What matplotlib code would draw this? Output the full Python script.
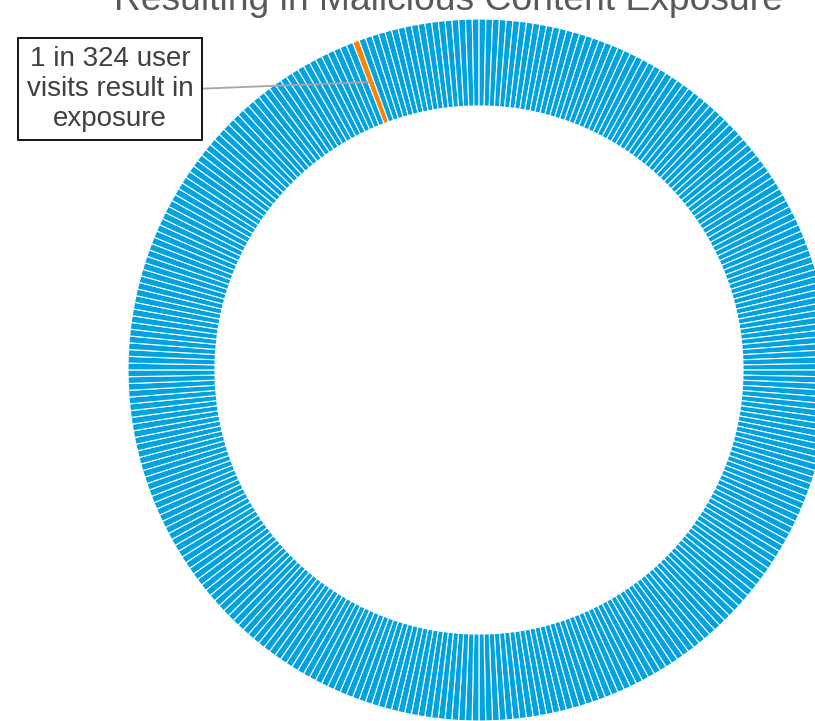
import numpy as np
import matplotlib
matplotlib.use('Agg')
import matplotlib.pyplot as plt

plt.rcParams['font.family'] = ['Liberation Sans', 'DejaVu Sans']

# data: 324 user visits, 1 results in exposure
n_visits = 324
n_exposed = 1
title = 'Resulting in Malicious Content Exposure'
label = '1 in 324 user\nvisits result in\nexposure'

blue = '#00A2DF'
orange = '#FF8300'

values = [1] * n_visits
colors = [orange] * n_exposed + [blue] * (n_visits - n_exposed)

W, H = 815, 721
fig = plt.figure(figsize=(W / 100, H / 100), dpi=100)
ax = fig.add_axes([0, 0, 1, 1])

cx, cy = 479, H - 370
r_out, r_in = 351, 264
start = 111.1

wedges, _ = ax.pie(values, colors=colors, startangle=start, counterclock=False,
                   radius=r_out, center=(cx, cy),
                   wedgeprops=dict(width=r_out - r_in, edgecolor='white', linewidth=0.8))

# pie resets the limits, so set them afterwards
ax.set_xlim(0, W)
ax.set_ylim(0, H)
ax.set_aspect('equal')
ax.axis('off')

#---label pointing at the exposed slice
w = wedges[0]
theta = np.deg2rad((w.theta1 + w.theta2) / 2)
r_mid = (r_out + r_in) / 2
pt = (cx + r_mid * np.cos(theta), cy + r_mid * np.sin(theta))

ax.annotate(label, xy=pt, xytext=(110, H - 89), ha='center', va='center',
            fontsize=20, color='#404040', linespacing=1.2,
            bbox=dict(boxstyle='square,pad=0.3', fc='white', ec='black', lw=1.3),
            arrowprops=dict(arrowstyle='-', color='#A6A6A6', lw=1.3,
                            shrinkA=0, shrinkB=0, relpos=(1.0, 0.5)))

fig.text(448.5 / W, 1 - 10 / H, title, ha='center', va='baseline',
         fontsize=26.8, color='#595959')

fig.savefig('out.png', dpi=100)
